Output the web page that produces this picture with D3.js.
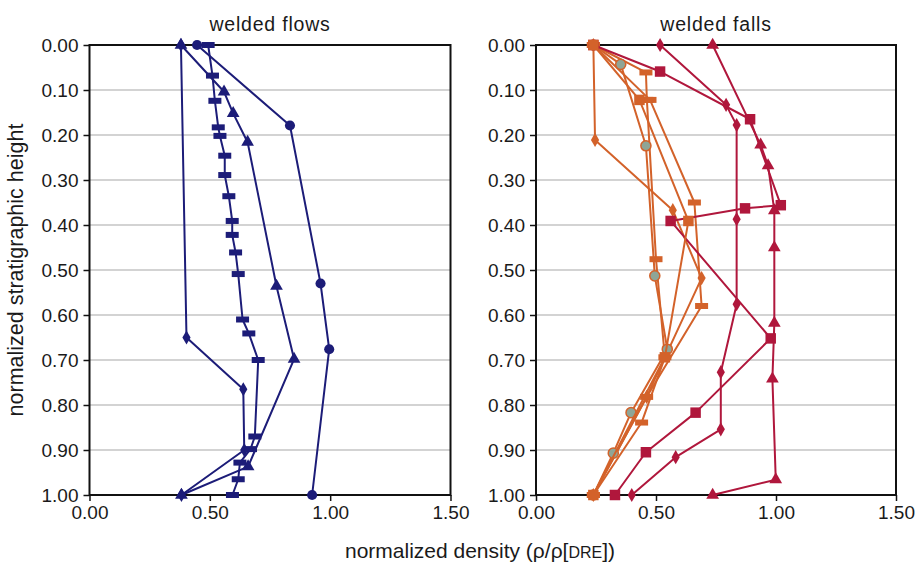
<!DOCTYPE html>
<html>
<head>
<meta charset="utf-8">
<script src="https://cdn.jsdelivr.net/npm/d3@7"></script>
<style>
  body { margin: 0; background: #fff; }
  text { font-family: "Liberation Sans", Arial, sans-serif; fill: #1a1a1a; }
</style>
</head>
<body>
<svg id="chart" width="916" height="564"></svg>
<script>
// tick values
const xTicks = [0, 0.5, 1.0, 1.5];
const yTicks = [0, 0.1, 0.2, 0.3, 0.4, 0.5, 0.6, 0.7, 0.8, 0.9, 1.0];
const panelTitles = ["welded flows", "welded falls"];

// welded flows: [normalized density, normalized height]
const flowsDiamond = [[0.38, 0], [0.403, 0.65], [0.639, 0.765], [0.643, 0.90], [0.382, 1.0]];
const flowsTriangle = [[0.38, 0], [0.559, 0.104], [0.597, 0.152], [0.657, 0.216], [0.777, 0.536],
    [0.85, 0.698], [0.659, 0.937], [0.382, 1.0]];
const flowsCircle = [[0.447, 0], [0.833, 0.179], [0.96, 0.53], [0.996, 0.676], [0.925, 1.0]];
const flowsDash = [[0.493, 0], [0.511, 0.068], [0.521, 0.124], [0.535, 0.183], [0.542, 0.202],
    [0.562, 0.246], [0.562, 0.289], [0.579, 0.336], [0.593, 0.391], [0.593, 0.422], [0.607, 0.461],
    [0.618, 0.509], [0.636, 0.61], [0.662, 0.641], [0.701, 0.70], [0.687, 0.870], [0.669, 0.898],
    [0.625, 0.928], [0.618, 0.965], [0.594, 1.0]];

// welded falls (red)
const fallsTriangle = [[0.736, 0], [0.936, 0.222], [0.967, 0.268], [0.993, 0.368], [0.993, 0.45],
    [0.993, 0.618], [0.985, 0.742], [0.999, 0.966], [0.736, 1.0]];
const fallsSquare = [[0.239, 0], [0.517, 0.059], [0.892, 0.165], [1.02, 0.356], [0.871, 0.363],
    [0.561, 0.391], [0.978, 0.652], [0.665, 0.817], [0.458, 0.905], [0.329, 1.0]];
const fallsDiamond = [[0.517, 0], [0.792, 0.133], [0.836, 0.178], [0.836, 0.387], [0.836, 0.576],
    [0.77, 0.727], [0.77, 0.854], [0.582, 0.916], [0.399, 1.0]];

// welded falls (orange)
const fallsOSquare = [[0.239, 0], [0.431, 0.122], [0.635, 0.391], [0.537, 0.694], [0.239, 1.0]];
const fallsOCircle = [[0.239, 0], [0.353, 0.043], [0.458, 0.224], [0.495, 0.513], [0.547, 0.676],
    [0.396, 0.817], [0.322, 0.907], [0.239, 1.0]];
const fallsODiamond = [[0.239, 0], [0.246, 0.211], [0.57, 0.367], [0.69, 0.518], [0.461, 0.782], [0.239, 1.0]];
const fallsODashA = [[0.239, 0], [0.458, 0.061], [0.462, 0.122], [0.5, 0.476], [0.537, 0.694],
    [0.44, 0.839], [0.239, 1.0]];
const fallsODashB = [[0.239, 0], [0.475, 0.122], [0.66, 0.35], [0.69, 0.58], [0.461, 0.782], [0.239, 1.0]];

const navy = "#1c1c78";
const red = "#b0173c";
const orange = "#d3622a";

const panels = [
    {
        title: panelTitles[0], left: 89.5, right: 450.5,
        series: [
            { data: flowsDiamond, marker: "diamond", color: navy },
            { data: flowsTriangle, marker: "triangle", color: navy },
            { data: flowsCircle, marker: "circle", color: navy },
            { data: flowsDash, marker: "dash", color: navy }
        ]
    },
    {
        title: panelTitles[1], left: 536, right: 896,
        series: [
            { data: fallsODiamond, marker: "diamond", color: orange },
            { data: fallsODashA, marker: "dash", color: orange },
            { data: fallsODashB, marker: "dash", color: orange },
            { data: fallsOCircle, marker: "circle", color: orange, fill: "#8fa596" },
            { data: fallsDiamond, marker: "diamond", color: red },
            { data: fallsSquare, marker: "square", color: red },
            { data: fallsTriangle, marker: "triangle", color: red },
            { data: fallsOSquare, marker: "square", color: orange }
        ]
    }
];

const plotTop = 45, plotBottom = 495;
const svg = d3.select("#chart");

const yScale = d3.scaleLinear().domain([0, 1]).range([plotTop, plotBottom]);

panels.forEach(p => {
    const xScale = d3.scaleLinear().domain([0, 1.5]).range([p.left, p.right]);
    const g = svg.append("g");

    // gridlines
    g.selectAll("line.grid")
        .data(yTicks.slice(1, -1))
        .enter().append("line")
        .attr("x1", p.left).attr("x2", p.right)
        .attr("y1", d => yScale(d)).attr("y2", d => yScale(d))
        .attr("stroke", "#c4c4c4").attr("stroke-width", 1.5);

    // y axis
    const yAxis = g.append("g")
        .attr("transform", `translate(${p.left},0)`)
        .call(d3.axisLeft(yScale).tickValues(yTicks).tickFormat(d3.format(".2f")).tickSize(6).tickPadding(5));
    // x axis
    const xAxis = g.append("g")
        .attr("transform", `translate(0,${plotBottom})`)
        .call(d3.axisBottom(xScale).tickValues(xTicks).tickFormat(d3.format(".2f")).tickSize(6).tickPadding(5));
    [yAxis, xAxis].forEach(a => {
        a.select(".domain").remove();
        a.selectAll("line").attr("stroke", "#111").attr("stroke-width", 1.5);
        a.selectAll("text").attr("font-size", 19).attr("fill", "#1a1a1a")
            .attr("font-family", '"Liberation Sans", Arial, sans-serif');
    });

    // frame
    g.append("rect")
        .attr("x", p.left).attr("y", plotTop)
        .attr("width", p.right - p.left).attr("height", plotBottom - plotTop)
        .attr("fill", "none").attr("stroke", "#111").attr("stroke-width", 2);

    // title
    g.append("text")
        .attr("x", (p.left + p.right) / 2).attr("y", 31)
        .attr("text-anchor", "middle")
        .attr("font-size", 19.5).attr("letter-spacing", 0.8)
        .text(p.title);

    // series
    const line = d3.line().x(d => xScale(d[0])).y(d => yScale(d[1]));
    p.series.forEach(s => {
        g.append("path")
            .attr("d", line(s.data))
            .attr("fill", "none")
            .attr("stroke", s.color)
            .attr("stroke-width", 2)
            .attr("stroke-linejoin", "round");

        const marks = g.append("g");
        s.data.forEach(d => {
            const cx = xScale(d[0]), cy = yScale(d[1]);
            if (s.marker === "dash") {
                marks.append("rect")
                    .attr("x", cx - 6.5).attr("y", cy - 3)
                    .attr("width", 13).attr("height", 6)
                    .attr("fill", s.color);
            } else {
                const types = {
                    circle: [d3.symbolCircle, 80],
                    triangle: [d3.symbolTriangle, 70],
                    diamond: [d3.symbolDiamond, 58],
                    square: [d3.symbolSquare, 110]
                };
                const t = types[s.marker];
                marks.append("path")
                    .attr("d", d3.symbol().type(t[0]).size(t[1])())
                    .attr("transform", `translate(${cx},${cy})`)
                    .attr("fill", s.fill || s.color)
                    .attr("stroke", s.color)
                    .attr("stroke-width", s.fill ? 1.5 : 0);
            }
        });
    });
});

// y axis title
svg.append("text")
    .attr("transform", `translate(23,${(plotTop + plotBottom) / 2}) rotate(-90)`)
    .attr("text-anchor", "middle")
    .attr("font-size", 21.5)
    .text("normalized stratigraphic height");

// x axis title
const xLabel = svg.append("text")
    .attr("x", 480).attr("y", 558)
    .attr("text-anchor", "middle")
    .attr("font-size", 21);
xLabel.append("tspan").text("normalized density (ρ/ρ[");
xLabel.append("tspan").attr("font-size", 16).text("DRE");
xLabel.append("tspan").text("])");
</script>
</body>
</html>
